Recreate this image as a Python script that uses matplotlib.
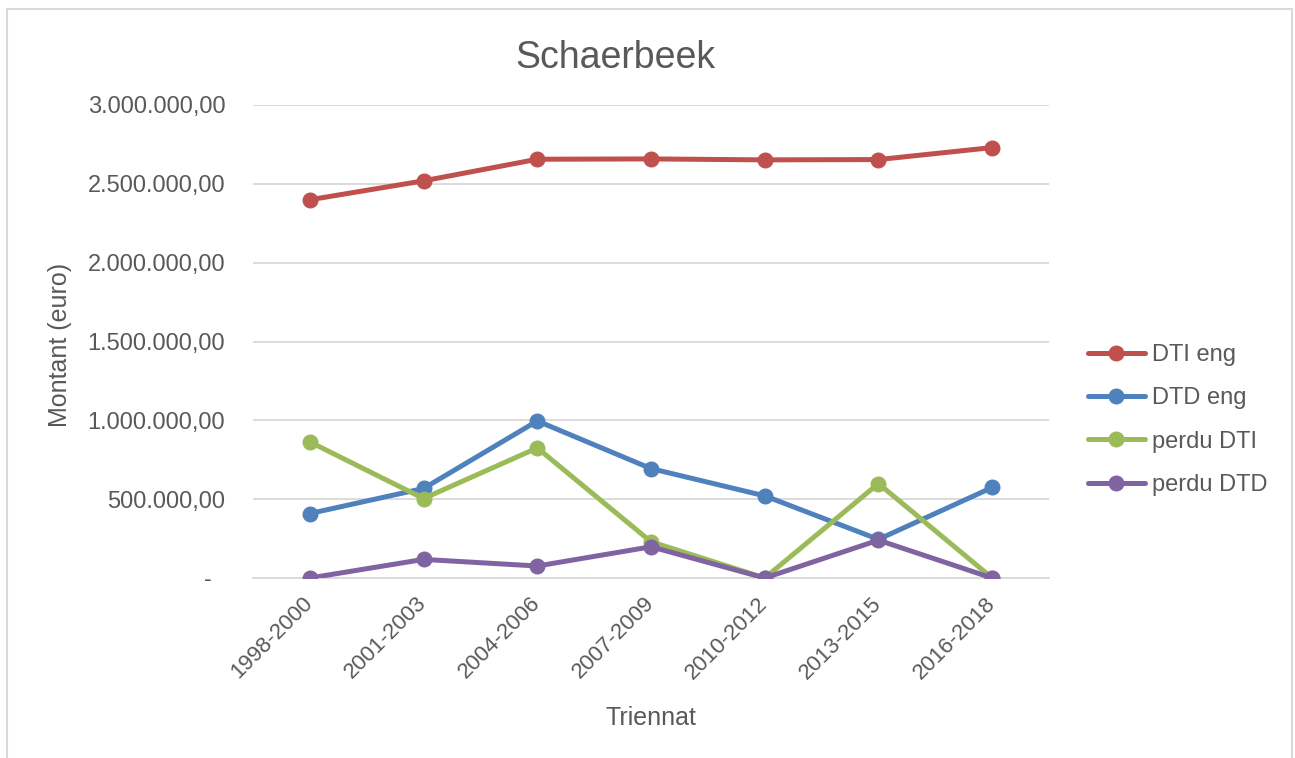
import matplotlib
matplotlib.use("Agg")
import matplotlib.pyplot as plt
from matplotlib.patches import Rectangle
from matplotlib.ticker import FuncFormatter, MultipleLocator

plt.rcParams['font.family'] = ['Liberation Sans', 'DejaVu Sans']

# Montants par triennat (euro)
triennats = ['1998-2000', '2001-2003', '2004-2006', '2007-2009',
             '2010-2012', '2013-2015', '2016-2018']
dti_eng = [2399000, 2519000, 2656000, 2658000, 2652000, 2654000, 2730000]
dtd_eng = [409000, 568000, 996000, 694000, 521000, 245000, 574000]
perdu_dti = [863000, 504000, 825000, 230000, 0, 599000, 0]
perdu_dtd = [0, 118000, 76000, 198000, 0, 240000, 0]

series = [
    ('DTI eng', dti_eng, '#C0504D'),
    ('DTD eng', dtd_eng, '#4F81BD'),
    ('perdu DTI', perdu_dti, '#9BBB59'),
    ('perdu DTD', perdu_dtd, '#8064A2'),
]

TXT = '#595959'
W, H = 1295, 758


def euro_fmt(v, pos):
    if abs(v) < 1e-6:
        return '-  '
    s = '{:,.2f}'.format(v)
    return s.replace(',', ' ').replace('.', ',').replace(' ', '.')


fig = plt.figure(figsize=(W / 100, H / 100), dpi=100)
fig.patches.append(Rectangle((7 / W, -0.05), 1285 / W, 1 - 9 / H + 0.05,
                             transform=fig.transFigure, fill=False,
                             edgecolor='#D9D9D9', linewidth=1.5))

ax = fig.add_axes([253 / W, 1 - 578 / H, (1049 - 253) / W, (578 - 105) / H])
x = list(range(len(triennats)))
for name, vals, col in series:
    ax.plot(x, vals, color=col, linewidth=3.6, marker='o', markersize=10.5,
            solid_capstyle='round', label=name, zorder=3)

ax.set_xlim(-0.5, len(triennats) - 0.5)
ax.set_ylim(0, 3000000)
ax.yaxis.set_major_locator(MultipleLocator(500000))
ax.yaxis.set_major_formatter(FuncFormatter(euro_fmt))
ax.set_xticks(x)
ax.set_xticklabels(triennats, rotation=45, ha='right', va='center',
                   rotation_mode='anchor')

ax.grid(axis='y', color='#D9D9D9', linewidth=1.3, zorder=0)
for sp in ['top', 'right', 'left']:
    ax.spines[sp].set_visible(False)
ax.spines['bottom'].set_color('#D9D9D9')
ax.spines['bottom'].set_linewidth(1.3)
ax.tick_params(axis='both', length=0, colors=TXT)
ax.tick_params(axis='y', pad=20, labelsize=17)
ax.tick_params(axis='x', pad=16, labelsize=16)

fig.text(615 / W, 1 - 58 / H, 'Schaerbeek', fontsize=27, color=TXT,
         ha='center', va='center')
fig.text(60 / W, 1 - 345 / H, 'Montant (euro)', fontsize=18, color=TXT,
         rotation=90, ha='center', va='center')
fig.text(651 / W, 1 - 718 / H, 'Triennat', fontsize=18, color=TXT,
         ha='center', va='center')

handles, labels = ax.get_legend_handles_labels()
leg = fig.legend(handles, labels, loc='center left',
                 bbox_to_anchor=(1088 / W, 1 - 420 / H), frameon=False,
                 fontsize=17, handlelength=2.4, handletextpad=0.3,
                 labelspacing=0.9, borderpad=0, borderaxespad=0)
for t in leg.get_texts():
    t.set_color(TXT)

fig.savefig('out.png', dpi=100, facecolor='white')
